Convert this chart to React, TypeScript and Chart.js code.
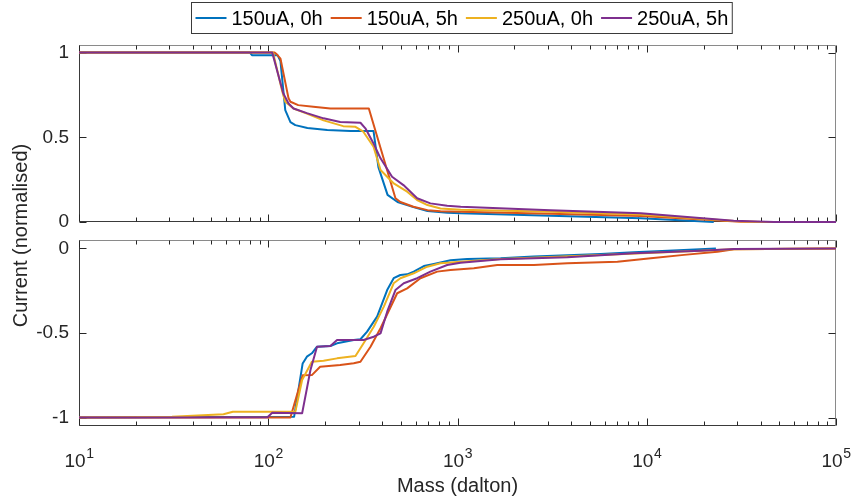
import React, { useEffect, useRef } from 'react';
import { Chart, registerables } from 'chart.js';

Chart.register(...registerables);

const FONT = '"Liberation Sans", Arial, Helvetica, sans-serif';
const AXIS_COLOR = '#262626';

const seriesLabels = ['150uA, 0h', '150uA, 5h', '250uA, 0h', '250uA, 5h'];
const seriesColors = ['#0072BD', '#D95319', '#EDB120', '#7E2F8E'];

const xTickValues = [10, 100, 1000, 10000, 100000];
const yTopTicks = [0, 0.5, 1];
const yBottomTicks = [-1, -0.5, 0];

// ---------- top panel (positive current) ----------
const topMass150u0h = [10, 80, 82, 112, 116, 123, 131, 139, 161, 205, 272, 360, 382, 427, 482, 585, 694, 885, 1040, 3100, 9300, 22600];
const topCur150u0h = [1, 1, 0.985, 0.985, 0.95, 0.66, 0.59, 0.572, 0.555, 0.543, 0.537, 0.537, 0.324, 0.16, 0.118, 0.088, 0.065, 0.055, 0.051, 0.037, 0.022, 0];

const topMass150u5h = [10, 108, 111, 116, 128, 131, 144, 173, 213, 340, 470, 499, 585, 694, 813, 1040, 3100, 9300, 31400, 100000];
const topCur150u5h = [1, 1, 0.99, 0.965, 0.73, 0.71, 0.69, 0.68, 0.67, 0.67, 0.14, 0.118, 0.09, 0.07, 0.064, 0.06, 0.048, 0.035, 0.002, 0];

const topMass250u0h = [10, 106, 118, 123, 136, 160, 196, 249, 289, 318, 360, 392, 458, 542, 612, 694, 813, 1040, 3100, 9300, 28800, 40000, 100000];
const topCur250u0h = [1, 1, 0.78, 0.71, 0.67, 0.64, 0.6, 0.566, 0.562, 0.533, 0.444, 0.307, 0.23, 0.179, 0.13, 0.1, 0.08, 0.073, 0.06, 0.045, 0.006, 0, 0];

const topMass250u5h = [10, 105, 120, 128, 136, 160, 196, 240, 307, 326, 360, 392, 451, 518, 612, 719, 882, 1040, 3100, 9300, 28800, 47000, 100000];
const topCur250u5h = [1, 1, 0.76, 0.7, 0.67, 0.643, 0.612, 0.59, 0.586, 0.553, 0.464, 0.376, 0.267, 0.218, 0.14, 0.11, 0.096, 0.09, 0.07, 0.051, 0.008, 0, 0];

// ---------- bottom panel (negative current) ----------
const botMass150u0h = [10, 137, 152, 160, 170, 181, 213, 231, 283, 307, 333, 376, 425, 460, 499, 542, 587, 664, 750, 918, 1125, 1690, 2525, 5710, 8530, 12900, 23200];
const botCur150u0h = [-1, -0.995, -0.68, -0.64, -0.62, -0.581, -0.577, -0.561, -0.541, -0.537, -0.492, -0.403, -0.246, -0.176, -0.157, -0.153, -0.137, -0.104, -0.092, -0.07, -0.062, -0.058, -0.048, -0.033, -0.023, -0.013, 0];

const botMass150u5h = [10, 131, 152, 170, 188, 240, 283, 307, 347, 392, 480, 542, 637, 781, 918, 1220, 1622, 2535, 3805, 7000, 10500, 15750, 23650, 28950, 100000];
const botCur150u5h = [-1, -1, -0.75, -0.749, -0.7, -0.689, -0.679, -0.67, -0.581, -0.472, -0.265, -0.236, -0.176, -0.137, -0.127, -0.117, -0.098, -0.098, -0.088, -0.078, -0.058, -0.038, -0.019, -0.005, 0];

const botMass250u0h = [10, 31, 58, 65, 139, 151, 170, 196, 231, 289, 319, 361, 408, 460, 499, 587, 692, 813, 1037, 1690, 5710, 19300, 28800, 100000];
const botCur250u0h = [-1, -0.995, -0.981, -0.966, -0.966, -0.778, -0.67, -0.664, -0.65, -0.636, -0.561, -0.463, -0.344, -0.206, -0.176, -0.147, -0.108, -0.088, -0.078, -0.062, -0.038, -0.013, -0.005, 0];

const botMass250u5h = [10, 99, 105, 151, 167, 181, 213, 231, 319, 361, 392, 425, 470, 520, 612, 719, 882, 1037, 1690, 3805, 8530, 19300, 28800, 100000];
const botCur250u5h = [-1, -0.998, -0.972, -0.975, -0.72, -0.581, -0.577, -0.541, -0.541, -0.522, -0.502, -0.374, -0.246, -0.206, -0.176, -0.137, -0.098, -0.084, -0.064, -0.052, -0.028, -0.013, -0.003, 0];

const topMasses = [topMass150u0h, topMass150u5h, topMass250u0h, topMass250u5h];
const topCurrents = [topCur150u0h, topCur150u5h, topCur250u0h, topCur250u5h];
const botMasses = [botMass150u0h, botMass150u5h, botMass250u0h, botMass250u5h];
const botCurrents = [botCur150u0h, botCur150u5h, botCur250u0h, botCur250u5h];

const xTitle = 'Mass (dalton)';
const yTitle = 'Current (normalised)';

const framePlugin = {
  id: 'frame',
  beforeDatasetsDraw(chart: any) {
    const { ctx, chartArea, scales } = chart;
    const xs = scales.x;
    const ys = scales.y;
    const l = Math.round(chartArea.left) + 0.5;
    const r = Math.round(chartArea.right) - 0.5;
    const t = Math.round(chartArea.top) + 0.5;
    const b = Math.round(chartArea.bottom) - 0.5;
    ctx.save();
    ctx.lineWidth = 1;
    ctx.strokeStyle = '#8a8a8a';
    ctx.beginPath();
    ctx.moveTo(l, t); ctx.lineTo(r, t); ctx.lineTo(r, b);
    ctx.stroke();
    ctx.strokeStyle = '#3a3a3a';
    ctx.beginPath();
    ctx.moveTo(l, t); ctx.lineTo(l, b); ctx.lineTo(r, b);
    ctx.stroke();
    ctx.strokeStyle = AXIS_COLOR;
    ctx.beginPath();
    for (let d = 0; d < xTickValues.length; d++) {
      const dec = xTickValues[d];
      for (let k = 1; k <= 9; k++) {
        const v = dec * k;
        if (v > xs.max + 1e-9) break;
        const px = Math.round(xs.getPixelForValue(v)) + 0.5;
        const len = k === 1 ? 7 : 4;
        ctx.moveTo(px, b); ctx.lineTo(px, b - len);
        ctx.moveTo(px, t); ctx.lineTo(px, t + len);
      }
    }
    for (const tk of ys.ticks) {
      const py = Math.round(ys.getPixelForValue(tk.value)) + 0.5;
      ctx.moveTo(l, py); ctx.lineTo(l + 7, py);
      ctx.moveTo(r, py); ctx.lineTo(r - 7, py);
    }
    ctx.stroke();
    ctx.restore();
  },
};

const legendPlugin = {
  id: 'boxLegend',
  afterDraw(chart: any) {
    const ctx = chart.ctx;
    ctx.save();
    ctx.font = `20px ${FONT}`;
    const lineLen = 31, gapLine = 5, gapItem = 8, pad = 4;
    const widths = seriesLabels.map((s) => ctx.measureText(s).width);
    const total = widths.reduce((a, w) => a + lineLen + gapLine + w, 0) + gapItem * (seriesLabels.length - 1) + pad * 2;
    const cx = 461.5;
    const left = Math.round(cx - total / 2) + 0.5;
    const top = 2.5, height = 31;
    ctx.fillStyle = '#ffffff';
    ctx.fillRect(left, top, total, height);
    ctx.strokeStyle = '#3a3a3a';
    ctx.lineWidth = 1;
    ctx.strokeRect(left, top, total, height);
    let x = left + pad;
    const midY = top + height / 2;
    ctx.textBaseline = 'middle';
    ctx.textAlign = 'left';
    seriesLabels.forEach((s, i) => {
      ctx.strokeStyle = seriesColors[i];
      ctx.lineWidth = 2;
      ctx.beginPath();
      ctx.moveTo(x, midY); ctx.lineTo(x + lineLen, midY);
      ctx.stroke();
      x += lineLen + gapLine;
      ctx.fillStyle = '#000';
      ctx.fillText(s, x, midY + 1);
      x += widths[i] + gapItem;
    });
    // y title spanning both panels
    ctx.save();
    ctx.translate(21, 235.5);
    ctx.rotate(-Math.PI / 2);
    ctx.textAlign = 'center';
    ctx.textBaseline = 'middle';
    ctx.fillStyle = AXIS_COLOR;
    ctx.font = `20px ${FONT}`;
    ctx.fillText(yTitle, 0, 0);
    ctx.restore();
    ctx.restore();
  },
};

const xLabelsPlugin = {
  id: 'xLabels',
  afterDraw(chart: any) {
    const { ctx, scales, chartArea } = chart;
    const xs = scales.x;
    ctx.save();
    ctx.fillStyle = AXIS_COLOR;
    ctx.textBaseline = 'alphabetic';
    ctx.textAlign = 'left';
    const baseY = chartArea.bottom + 41;
    for (const v of xTickValues) {
      const px = xs.getPixelForValue(v);
      const exp = String(Math.round(Math.log10(v)));
      ctx.font = `19px ${FONT}`;
      const wb = ctx.measureText('10').width;
      ctx.font = `14px ${FONT}`;
      const we = ctx.measureText(exp).width;
      const x0 = px - (wb + we) / 2;
      ctx.font = `19px ${FONT}`;
      ctx.fillText('10', x0, baseY);
      ctx.font = `14px ${FONT}`;
      ctx.fillText(exp, x0 + wb + 0.5, baseY - 9);
    }
    ctx.font = `20px ${FONT}`;
    ctx.textAlign = 'center';
    ctx.textBaseline = 'middle';
    ctx.fillText(xTitle, (chartArea.left + chartArea.right) / 2, 486);
    ctx.restore();
  },
};

function buildConfig(isTop: boolean): any {
  const masses = isTop ? topMasses : botMasses;
  const currents = isTop ? topCurrents : botCurrents;
  const yTicks = isTop ? yTopTicks : yBottomTicks;
  return {
    type: 'line',
    data: {
      datasets: seriesLabels.map((label, i) => ({
        label,
        data: masses[i].map((m, j) => ({ x: m, y: currents[i][j] })),
        borderColor: seriesColors[i],
        backgroundColor: seriesColors[i],
        borderWidth: 2,
        pointRadius: 0,
        tension: 0,
        fill: false,
        clip: 3,
        order: seriesLabels.length - 1 - i,
        borderJoinStyle: 'round',
      })),
    },
    options: {
      responsive: false,
      animation: false,
      devicePixelRatio: 1,
      events: [],
      layout: {
        padding: isTop
          ? { left: 0, right: 17, top: 45, bottom: 278 }
          : { left: 0, right: 17, top: 240, bottom: 74 },
      },
      plugins: {
        legend: { display: false },
        tooltip: { enabled: false },
        title: { display: false },
      },
      scales: {
        x: { type: 'logarithmic', min: 10, max: 100000, display: false },
        y: {
          type: 'linear',
          min: isTop ? 0 : -1.05,
          max: isTop ? 1.045 : 0.05,
          afterFit: (s: any) => { s.width = 79; },
          afterBuildTicks: (s: any) => { s.ticks = yTicks.map((v) => ({ value: v })); },
          grid: { display: false, drawTicks: false },
          border: { display: false },
          ticks: {
            padding: 10,
            color: AXIS_COLOR,
            font: { size: 19, family: FONT },
            callback: (v: any) => String(v),
          },
        },
      },
    },
    plugins: isTop ? [framePlugin, legendPlugin] : [framePlugin, xLabelsPlugin],
  };
}

export default function App() {
  const topRef = useRef<HTMLCanvasElement>(null);
  const botRef = useRef<HTMLCanvasElement>(null);
  useEffect(() => {
    const top = new Chart(topRef.current as HTMLCanvasElement, buildConfig(true));
    const bot = new Chart(botRef.current as HTMLCanvasElement, buildConfig(false));
    return () => {
      top.destroy();
      bot.destroy();
    };
  }, []);
  return (
    <div style={{ position: 'fixed', left: 0, top: 0, width: 853, height: 500, background: '#ffffff' }}>
      <canvas ref={topRef} width={853} height={500} style={{ position: 'absolute', left: 0, top: 0 }} />
      <canvas ref={botRef} width={853} height={500} style={{ position: 'absolute', left: 0, top: 0 }} />
    </div>
  );
}
